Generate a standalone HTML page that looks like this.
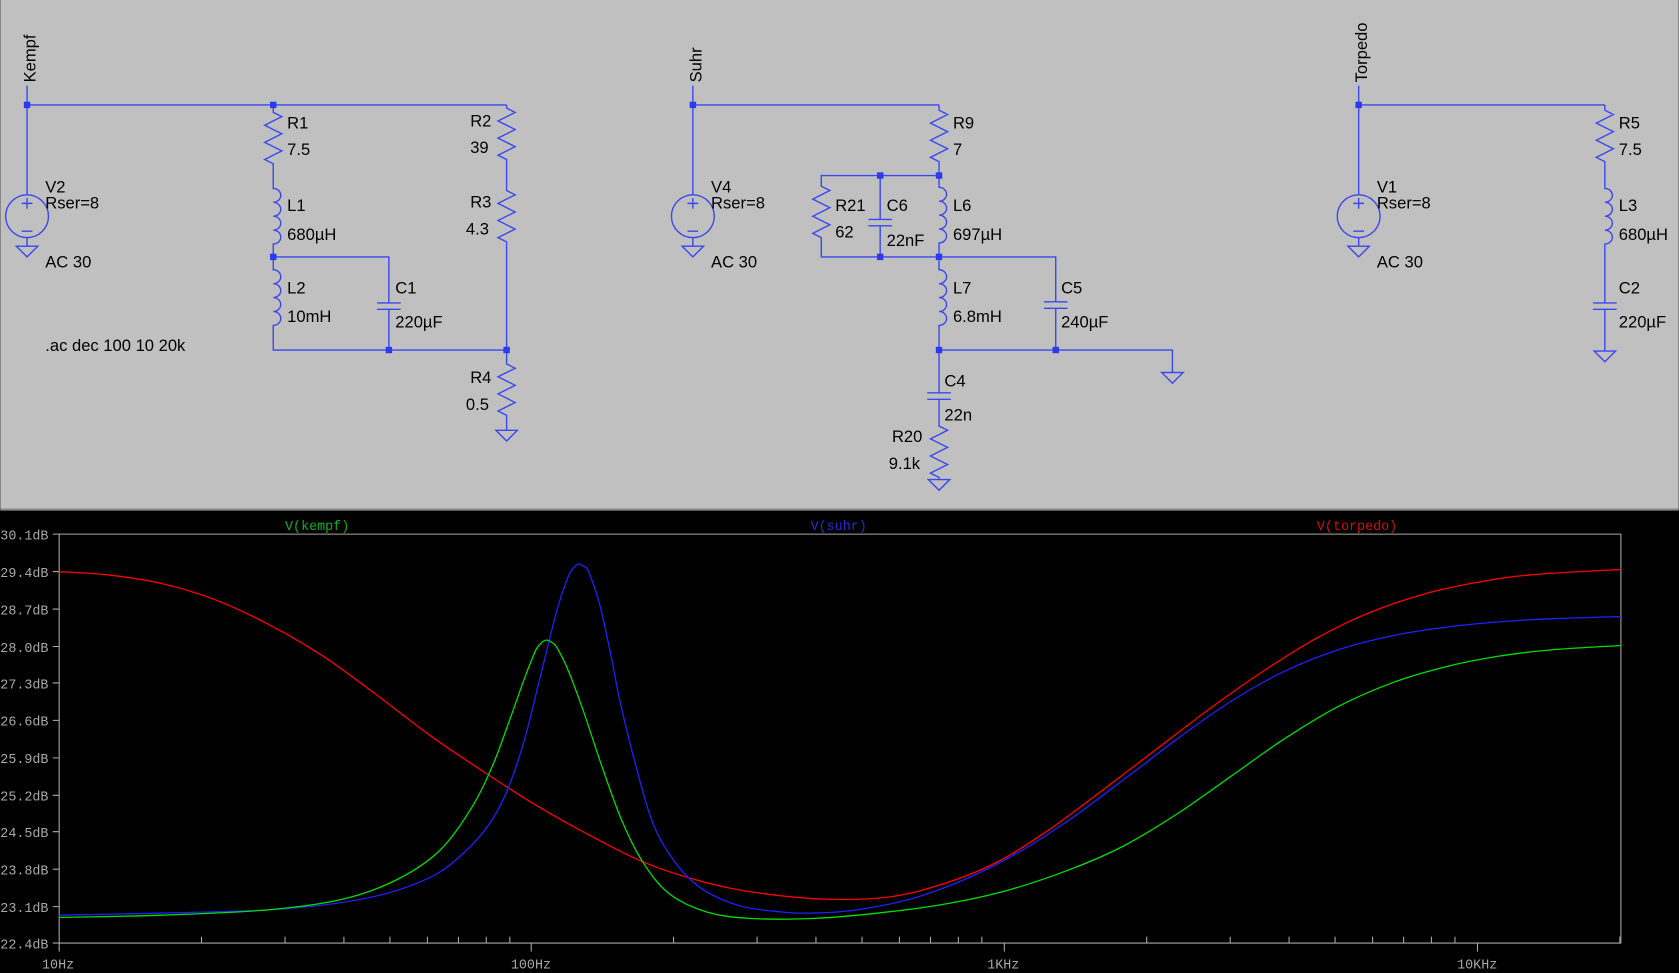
<!DOCTYPE html>
<html><head><meta charset="utf-8"><style>
html,body{margin:0;padding:0;background:#000;}
svg{display:block}
.w{stroke:#3a48ee;stroke-width:1.3;fill:none}
.d{fill:#2b3cf0}
.t{font-family:"Liberation Sans",sans-serif;font-size:15.5px;fill:#000}
.a{font-family:"Liberation Mono",monospace;font-size:12.5px;fill:#a8a8a8}
.ax{stroke:#a8a8a8;stroke-width:1;fill:none}
</style></head><body>
<svg width="1679" height="973" viewBox="0 0 1568 909" xmlns="http://www.w3.org/2000/svg">
<rect x="0" y="0" width="1568" height="909" fill="#000"/>
<rect x="0" y="0" width="1568" height="476" fill="#c0c0c0"/>
<line x1="0" y1="476" x2="1568" y2="476" stroke="#888" stroke-width="2"/>

<!-- Kempf -->
<g class="w">
<path d="M25 80 V182 M25 222 V230 M255 98 H473"/>
<path d="M25 98 H255"/>
<circle cx="25" cy="202" r="20"/>
<path d="M20 190 h10 M25 185 v10 M20 216 h10"/>
<path d="M15 230 h20 l-10 10 z"/>
<path d="M255 98 v7 l8 4 l-16 8 l16 8 l-16 8 l16 8 l-16 8 l8 4 V176 a7 6.5 0 0 1 0 13 a7 6.5 0 0 1 0 13 a7 6.5 0 0 1 0 13 a7 6.5 0 0 1 0 13 V252 a7 6.5 0 0 1 0 13 a7 6.5 0 0 1 0 13 a7 6.5 0 0 1 0 13 a7 6.5 0 0 1 0 13 V327 H473"/>
<path d="M255 240 H363 V283 M352 283 h22 M352 289 h22 M363 289 V327"/>
<path d="M473 98 v3 l8 4 l-16 8 l16 8 l-16 8 l16 8 l-16 8 l8 4 V178 l8 4 l-16 8 l16 8 l-16 8 l16 8 l-16 8 l8 4 V340 l8 4 l-16 8 l16 8 l-16 8 l16 8 l-16 8 l8 4 V402"/>
<path d="M463 402 h20 l-10 10 z"/>
</g>
<g class="d"><rect x="22" y="95" width="6" height="6"/><rect x="252" y="95" width="6" height="6"/><rect x="252" y="237" width="6" height="6"/><rect x="360" y="324" width="6" height="6"/><rect x="470" y="324" width="6" height="6"/></g>
<text class="t" transform="translate(33,77) rotate(-90)">Kempf</text>
<text class="t" x="42" y="180">V2</text><text class="t" x="42" y="195">Rser=8</text><text class="t" x="42" y="250">AC 30</text>
<text class="t" x="268" y="120">R1</text><text class="t" x="268" y="145">7.5</text>
<text class="t" x="268" y="197">L1</text><text class="t" x="268" y="224">680µH</text>
<text class="t" x="268" y="274">L2</text><text class="t" x="268" y="301">10mH</text>
<text class="t" x="369" y="274">C1</text><text class="t" x="369" y="306">220µF</text>
<text class="t" x="439" y="118">R2</text><text class="t" x="439" y="143">39</text>
<text class="t" x="439" y="194">R3</text><text class="t" x="435" y="219">4.3</text>
<text class="t" x="439" y="358">R4</text><text class="t" x="435" y="383">0.5</text>
<text class="t" x="42" y="328">.ac dec 100 10 20k</text>

<!-- Suhr -->
<g class="w">
<path d="M647 80 V182 M647 222 V230 M647 98 H877"/>
<circle cx="647" cy="202" r="20"/>
<path d="M642 190 h10 M647 185 v10 M642 216 h10"/>
<path d="M637 230 h20 l-10 10 z"/>
<path d="M877 98 v5 l8 4 l-16 8 l16 8 l-16 8 l16 8 l-16 8 l8 4 V164 H767 V174 l8 4 l-16 8 l16 8 l-16 8 l16 8 l-16 8 l8 4 V240 H986 V282 M975 282 h22 M975 288 h22 M986 288 V327"/>
<path d="M822 164 V205 M811 205 h22 M811 211 h22 M822 211 V240"/>
<path d="M877 164 V175 a7 6.5 0 0 1 0 13 a7 6.5 0 0 1 0 13 a7 6.5 0 0 1 0 13 a7 6.5 0 0 1 0 13 V252 a7 6.5 0 0 1 0 13 a7 6.5 0 0 1 0 13 a7 6.5 0 0 1 0 13 a7 6.5 0 0 1 0 13 V327 H1095 V348"/>
<path d="M1085 348 h20 l-10 10 z"/>
<path d="M877 327 V367 M866 367 h22 M866 373 h22 M877 373 V398 l8 4 l-16 8 l16 8 l-16 8 l16 8 l-16 8 l8 4 V448"/>
<path d="M867 448 h20 l-10 10 z"/>
</g>
<g class="d"><rect x="644" y="95" width="6" height="6"/><rect x="874" y="161" width="6" height="6"/><rect x="819" y="161" width="6" height="6"/><rect x="819" y="237" width="6" height="6"/><rect x="874" y="237" width="6" height="6"/><rect x="874" y="324" width="6" height="6"/><rect x="983" y="324" width="6" height="6"/></g>
<text class="t" transform="translate(655,77) rotate(-90)">Suhr</text>
<text class="t" x="664" y="180">V4</text><text class="t" x="664" y="195">Rser=8</text><text class="t" x="664" y="250">AC 30</text>
<text class="t" x="890" y="120">R9</text><text class="t" x="890" y="145">7</text>
<text class="t" x="780" y="197">R21</text><text class="t" x="780" y="222">62</text>
<text class="t" x="828" y="197">C6</text><text class="t" x="828" y="230">22nF</text>
<text class="t" x="890" y="197">L6</text><text class="t" x="890" y="224">697µH</text>
<text class="t" x="890" y="274">L7</text><text class="t" x="890" y="301">6.8mH</text>
<text class="t" x="991" y="274">C5</text><text class="t" x="991" y="306">240µF</text>
<text class="t" x="882" y="361">C4</text><text class="t" x="882" y="393">22n</text>
<text class="t" x="833" y="413">R20</text><text class="t" x="830" y="438">9.1k</text>

<!-- Torpedo -->
<g class="w">
<path d="M1269 80 V182 M1269 222 V230 M1269 98 H1499"/>
<circle cx="1269" cy="202" r="20"/>
<path d="M1264 190 h10 M1269 185 v10 M1264 216 h10"/>
<path d="M1259 230 h20 l-10 10 z"/>
<path d="M1499 98 v5 l8 4 l-16 8 l16 8 l-16 8 l16 8 l-16 8 l8 4 V176 a7 6.5 0 0 1 0 13 a7 6.5 0 0 1 0 13 a7 6.5 0 0 1 0 13 a7 6.5 0 0 1 0 13 V283 M1488 283 h22 M1488 289 h22 M1499 289 V328"/>
<path d="M1489 328 h20 l-10 10 z"/>
</g>
<g class="d"><rect x="1266" y="95" width="6" height="6"/></g>
<text class="t" transform="translate(1277,77) rotate(-90)">Torpedo</text>
<text class="t" x="1286" y="180">V1</text><text class="t" x="1286" y="195">Rser=8</text><text class="t" x="1286" y="250">AC 30</text>
<text class="t" x="1512" y="120">R5</text><text class="t" x="1512" y="145">7.5</text>
<text class="t" x="1512" y="197">L3</text><text class="t" x="1512" y="224">680µH</text>
<text class="t" x="1512" y="274">C2</text><text class="t" x="1512" y="306">220µF</text>

<!-- Plot -->
<path class="ax" d="M55 499 H1514 V881 H55 Z"/>
<g class="ax">
<path d="M49 499h6 M49 534h6 M49 569h6 M49 604h6 M49 638h6 M49 673h6 M49 708h6 M49 743h6 M49 777h6 M49 812h6 M49 847h6 M49 881h6"/>
<path d="M55 881v8 M496 881v8 M938 881v8 M1380 881v8"/>
<path d="M188 881v-6 M266 881v-6 M321 881v-6 M364 881v-6 M399 881v-6 M428 881v-6 M454 881v-6 M476 881v-6
M629 881v-6 M707 881v-6 M762 881v-6 M805 881v-6 M840 881v-6 M869 881v-6 M895 881v-6 M917 881v-6
M1071 881v-6 M1149 881v-6 M1204 881v-6 M1247 881v-6 M1282 881v-6 M1311 881v-6 M1337 881v-6 M1359 881v-6
M1513 881v-6"/>
</g>
<text class="a" x="0" y="504">30.1dB</text><text class="a" x="0" y="539">29.4dB</text><text class="a" x="0" y="574">28.7dB</text>
<text class="a" x="0" y="609">28.0dB</text><text class="a" x="0" y="643">27.3dB</text><text class="a" x="0" y="678">26.6dB</text>
<text class="a" x="0" y="713">25.9dB</text><text class="a" x="0" y="748">25.2dB</text><text class="a" x="0" y="782">24.5dB</text>
<text class="a" x="0" y="817">23.8dB</text><text class="a" x="0" y="852">23.1dB</text><text class="a" x="0" y="886">22.4dB</text>
<text class="a" x="39" y="905">10Hz</text><text class="a" x="477" y="905">100Hz</text><text class="a" x="922" y="905">1KHz</text><text class="a" x="1361" y="905">10KHz</text>
<text class="a" x="266" y="495" style="fill:#10b020">V(kempf)</text>
<text class="a" x="757" y="495" style="fill:#2b2bd0">V(suhr)</text>
<text class="a" x="1230" y="495" style="fill:#d01010">V(torpedo)</text>

<polyline class="crv" fill="none" stroke="#ff0000" stroke-width="1.2" stroke-linejoin="round" points="55,534 100,537 150,545 200,560 250,583 300,612 350,648 400,686 450,720 500,752 550,780 600,805 650,822 700,833 770,840 830,838 880,826 930,806 980,775 1030,738 1080,700 1130,662 1180,627 1230,596 1280,572 1330,555 1380,544 1430,537 1514,532"/>
<polyline class="crv" fill="none" stroke="#2020ff" stroke-width="1.2" stroke-linejoin="round" points="55,855 150,853 250,850 320,843 370,832 410,815 440,790 460,765 475,735 490,690 505,630 520,570 530,540 535,531 540,527 545,529 550,535 560,565 570,610 580,660 595,720 610,770 630,805 655,830 690,846 730,852 760,853 800,850 850,840 900,822 950,797 1000,765 1050,728 1100,690 1150,655 1200,627 1250,607 1300,594 1350,586 1400,581 1450,578 1514,576"/>
<polyline class="crv" fill="none" stroke="#00e000" stroke-width="1.2" stroke-linejoin="round" points="55,857 150,855 250,850 320,840 370,822 410,795 440,755 460,715 475,675 490,633 500,608 505,601 510,598 515,600 520,605 530,625 545,665 560,710 580,765 600,805 625,835 660,852 700,858 760,858 820,853 880,845 940,832 1000,812 1050,790 1100,760 1150,725 1200,690 1250,660 1300,638 1350,623 1400,613 1450,607 1514,603"/>
</svg>
<script>
document.querySelectorAll('polyline.crv').forEach(function(pl){
  var p=pl.getAttribute('points').trim().split(/\s+/).map(function(s){return s.split(',').map(Number);});
  var d='M'+p[0][0]+' '+p[0][1];
  for(var i=0;i<p.length-1;i++){
    var p0=p[i-1]||p[i],p1=p[i],p2=p[i+1],p3=p[i+2]||p2;
    var c1x=p1[0]+(p2[0]-p0[0])/6,c1y=p1[1]+(p2[1]-p0[1])/6;
    var c2x=p2[0]-(p3[0]-p1[0])/6,c2y=p2[1]-(p3[1]-p1[1])/6;
    d+=' C'+c1x.toFixed(1)+' '+c1y.toFixed(1)+' '+c2x.toFixed(1)+' '+c2y.toFixed(1)+' '+p2[0]+' '+p2[1];
  }
  var np=document.createElementNS('http://www.w3.org/2000/svg','path');
  np.setAttribute('d',d);np.setAttribute('fill','none');
  np.setAttribute('stroke',pl.getAttribute('stroke'));np.setAttribute('stroke-width','1.2');
  pl.parentNode.replaceChild(np,pl);
});
</script>
</body></html>
